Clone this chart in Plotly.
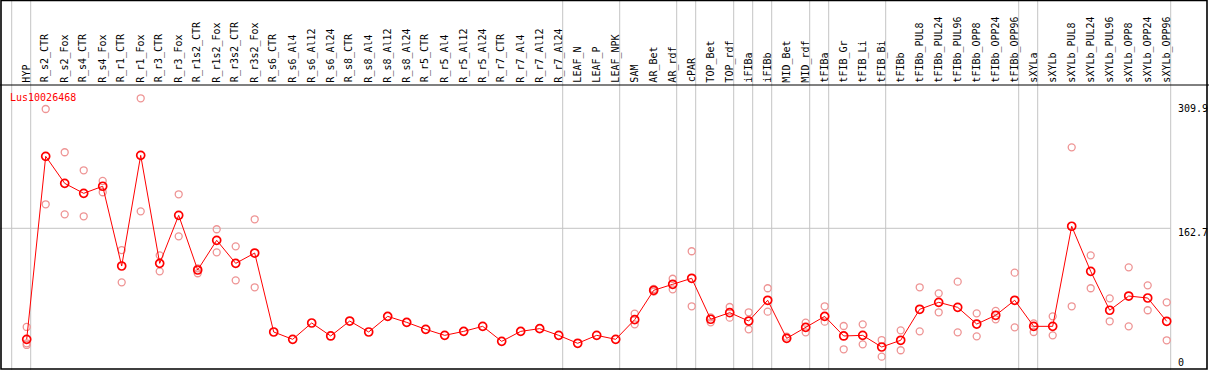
import plotly.graph_objects as go

# ---------------- data ----------------
categories = ["HYP", "R_s2_CTR", "R_s2_Fox", "R_s4_CTR", "R_s4_Fox", "R_r1_CTR", "R_r1_Fox",
              "R_r3_CTR", "R_r3_Fox", "R_r1s2_CTR", "R_r1s2_Fox", "R_r3s2_CTR", "R_r3s2_Fox",
              "R_s6_CTR", "R_s6_Al4", "R_s6_Al12", "R_s6_Al24", "R_s8_CTR", "R_s8_Al4", "R_s8_Al12",
              "R_s8_Al24", "R_r5_CTR", "R_r5_Al4", "R_r5_Al12", "R_r5_Al24", "R_r7_CTR", "R_r7_Al4",
              "R_r7_Al12", "R_r7_Al24", "LEAF_N", "LEAF_P", "LEAF_NPK", "SAM", "AR_Bet", "AR_rdf",
              "cPAR", "TOP_Bet", "TOP_rdf", "iFIBa", "iFIBb", "MID_Bet", "MID_rdf", "tFIBa",
              "tFIB_Gr", "tFIB_Li", "tFIB_Bi", "tFIBb", "tFIBb_PUL8", "tFIBb_PUL24", "tFIBb_PUL96",
              "tFIBb_OPP8", "tFIBb_OPP24", "tFIBb_OPP96", "sXYLa", "sXYLb", "sXYLb_PUL8",
              "sXYLb_PUL24", "sXYLb_PUL96", "sXYLb_OPP8", "sXYLb_OPP24", "sXYLb_OPP96"]

means = [37.0, 244.2, 213.6, 202.3, 210.3, 120.0, 245.3, 123.0, 177.4, 115.5, 149.1, 123.0, 134.7,
         45.3, 37.0, 55.5, 40.8, 57.7, 45.3, 63.0, 56.2, 48.3, 41.5, 46.0, 51.7, 34.7, 46.0, 49.1,
         41.5, 32.5, 41.5, 37.0, 59.3, 92.5, 99.3, 106.1, 59.7, 67.2, 57.7, 81.2, 38.1, 50.6, 63.0,
         40.8, 41.5, 28.3, 35.9, 71.0, 78.9, 73.2, 54.3, 64.2, 81.2, 51.7, 51.7, 165.0, 114.0, 69.9,
         86.0, 83.8, 57.4]

replicates = [
    [51.0, 32.5, 30.6], [297.8, 189.9], [248.8, 178.5], [228.4, 176.3], [216.3, 203.5],
    [138.1, 101.5], [309.9, 181.9], [132.1, 114.0], [201.2, 153.6], [117.4, 111.8],
    [161.6, 135.5], [142.3, 103.8], [172.9, 95.9],
    [], [], [], [], [], [], [], [], [], [], [], [], [], [], [], [], [], [], [],
    [66.0, 54.0], [94.0, 91.0], [105.6, 93.6], [136.7, 74.4], [61.9, 56.3], [73.6, 61.5],
    [67.6, 48.3], [94.8, 68.3], [40.0], [55.8, 44.9], [74.4, 57.0], [52.1, 25.7], [54.0, 31.3],
    [36.2, 17.4], [47.2, 24.6], [95.9, 46.0], [89.1, 67.6], [102.3, 44.9], [66.4, 40.4],
    [69.1, 59.6], [112.5, 50.6], [55.1, 45.3], [63.0, 41.5], [254.4, 74.4], [132.1, 94.8],
    [83.4, 57.4], [118.5, 51.7], [98.1, 69.9], [78.9, 35.9],
]

group_sizes = [1, 28, 3, 3, 1, 2, 1, 1, 2, 1, 3, 7, 1, 7]
tick_labels = ["309.9", "162.7", "0"]
tick_values = [309.9, 162.7, 0.0]
gene_name = "Lus10026468"

# ---------------- geometry (layout only) ----------------
W, H = 1209, 370
X0, DX = 26.7, 19.0          # pixel of first category, pixel step
Y0, KY = 372.0, 0.8832       # pixel of value 0, pixels per unit
HEADER = 85                  # pixel y of header separator
RIGHT_EDGE = 1207

def xp(px):   # pixel -> data x
    return (px - X0) / DX

def yp(py):   # pixel -> paper y
    return 1 - py / H

x_range = [xp(0), xp(W)]
y_range = [(Y0 - H) / KY, Y0 / KY]

idx = list(range(len(categories)))
rx, ry = [], []
for i, reps in enumerate(replicates):
    for v in reps:
        rx.append(i)
        ry.append(v)

fig = go.Figure()
fig.add_trace(go.Scatter(
    x=rx, y=ry, mode="markers", hoverinfo="skip",
    marker=dict(symbol="circle-open", size=7, color="#EE9494", line=dict(width=1.3)),
    cliponaxis=False,
))
fig.add_trace(go.Scatter(
    x=idx, y=means, mode="lines+markers",
    line=dict(color="#FF0000", width=1),
    marker=dict(symbol="circle-open", size=8, color="#FF0000", line=dict(width=1.7)),
    cliponaxis=False,
))

shapes = []
bounds = [-1]
acc = -1
for g in group_sizes:
    acc += g
    bounds.append(acc)
last_sep = None
for b in bounds:
    xb = b + 4.0 / DX
    last_sep = xb
    shapes.append(dict(type="line", xref="x", yref="paper", x0=xb, x1=xb, y0=0, y1=1,
                       line=dict(color="#C4C4C4", width=1), layer="below"))
shapes.append(dict(type="line", xref="x", yref="y", x0=xp(0), x1=last_sep,
                   y0=tick_values[1], y1=tick_values[1],
                   line=dict(color="#C4C4C4", width=1), layer="below"))
shapes.append(dict(type="line", xref="paper", yref="paper", x0=0, x1=1,
                   y0=yp(HEADER), y1=yp(HEADER), line=dict(color="black", width=1)))
shapes.append(dict(type="rect", xref="paper", yref="paper", x0=1 / W, x1=RIGHT_EDGE / W,
                   y0=yp(369), y1=yp(0.5), line=dict(color="black", width=1.6)))

annotations = []
for i, c in enumerate(categories):
    annotations.append(dict(
        x=i - 0.03, xref="x", y=yp(HEADER - 0.5), yref="paper", text=c, showarrow=False,
        textangle=-90, xanchor="center", yanchor="bottom",
        font=dict(family="DejaVu Sans Mono", size=10, color="black"),
    ))
annotations.append(dict(
    x=8 / W, xref="paper", y=yp(97.7), yref="paper", text=gene_name, showarrow=False,
    xanchor="left", yanchor="middle", font=dict(family="DejaVu Sans Mono", size=10, color="#FF0000"),
))
label_py = [108, 232, 362]
for lab, py in zip(tick_labels, label_py):
    annotations.append(dict(
        x=1176 / W, xref="paper", y=yp(py), yref="paper", text=lab, showarrow=False,
        xanchor="left", yanchor="middle", font=dict(family="DejaVu Sans Mono", size=10, color="black"),
    ))

fig.update_layout(
    width=W, height=H, margin=dict(l=0, r=0, t=0, b=0),
    paper_bgcolor="white", plot_bgcolor="white", showlegend=False,
    xaxis=dict(range=x_range, visible=False, showgrid=False, zeroline=False, fixedrange=True),
    yaxis=dict(range=y_range, visible=False, showgrid=False, zeroline=False, fixedrange=True),
    shapes=shapes, annotations=annotations,
)

fig.write_html(
    "out.html",
    config={"displayModeBar": False},
    post_script="document.body.style.margin='0';document.body.style.padding='0';"
                "document.body.style.overflow='hidden';",
)
